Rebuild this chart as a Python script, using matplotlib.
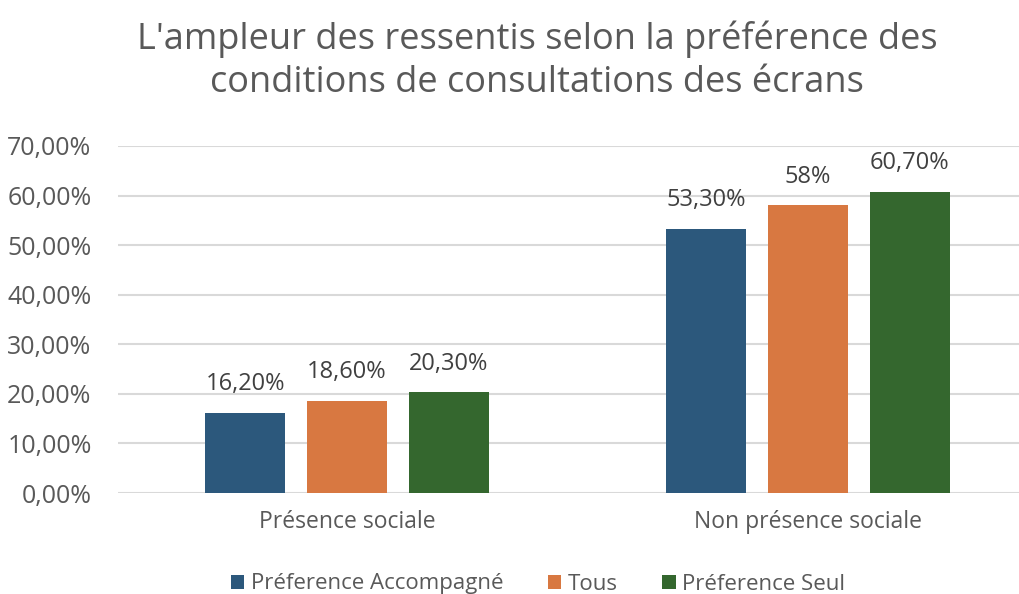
import matplotlib.pyplot as plt
from matplotlib.ticker import FuncFormatter
from matplotlib.patches import Patch

categories = ["Présence sociale", "Non présence sociale"]
series_names = ["Préference Accompagné", "Tous", "Préference Seul"]
accompagne = [0.162, 0.533]
tous = [0.186, 0.58]
seul = [0.203, 0.607]
value_labels = [["16,20%", "53,30%"], ["18,60%", "58%"], ["20,30%", "60,70%"]]
colors = ["#2C587C", "#D87841", "#34672E"]

plt.rcParams['font.family'] = ['Open Sans', 'DejaVu Sans']
text_col = "#595959"

fig = plt.figure(figsize=(10.19, 5.94), dpi=100)
ax = fig.add_axes([118 / 1019, 1 - 493 / 594, 1 - 118 / 1019, (493 - 146) / 594])

width = 0.1735
step = 0.221
for i, vals in enumerate([accompagne, tous, seul]):
    xs = [c + (i - 1) * step for c in range(len(categories))]
    bars = ax.bar(xs, vals, width=width, color=colors[i], zorder=3)
    for b, lab in zip(bars, value_labels[i]):
        ax.annotate(lab, (b.get_x() + b.get_width() / 2, b.get_height()),
                    xytext=(0, 12), textcoords="offset points",
                    ha="center", va="bottom", fontsize=17, color="#404040")

ax.set_xlim(-0.497, 1.458)
ax.set_ylim(0, 0.7)
ax.set_yticks([i / 10 for i in range(8)])
ax.yaxis.set_major_formatter(FuncFormatter(lambda v, p: f"{v * 100:.2f}%".replace(".", ",")))
ax.set_xticks(range(len(categories)))
ax.set_xticklabels(categories)
ax.tick_params(axis="both", length=0, labelcolor=text_col)
ax.tick_params(axis="x", pad=12, labelsize=16.5)
ax.tick_params(axis="y", pad=19, labelsize=18)
ax.grid(axis="y", color="#D9D9D9", linewidth=1.5, zorder=0)
for s in ax.spines.values():
    s.set_visible(False)

fig.text(537 / 1019, 1 - 61 / 594,
         "L'ampleur des ressentis selon la préférence des\nconditions de consultations des écrans",
         ha="center", va="center", fontsize=26, color=text_col, linespacing=1.25)

handles = [Patch(facecolor=c) for c in colors]
fig.legend(handles, series_names, loc="center", bbox_to_anchor=(538 / 1019, 1 - 584 / 594),
           ncol=3, frameon=False, fontsize=16, handlelength=0.6, handleheight=0.6,
           handletextpad=0.3, columnspacing=2.0, labelcolor=text_col)

fig.savefig("out.png", dpi=100)
